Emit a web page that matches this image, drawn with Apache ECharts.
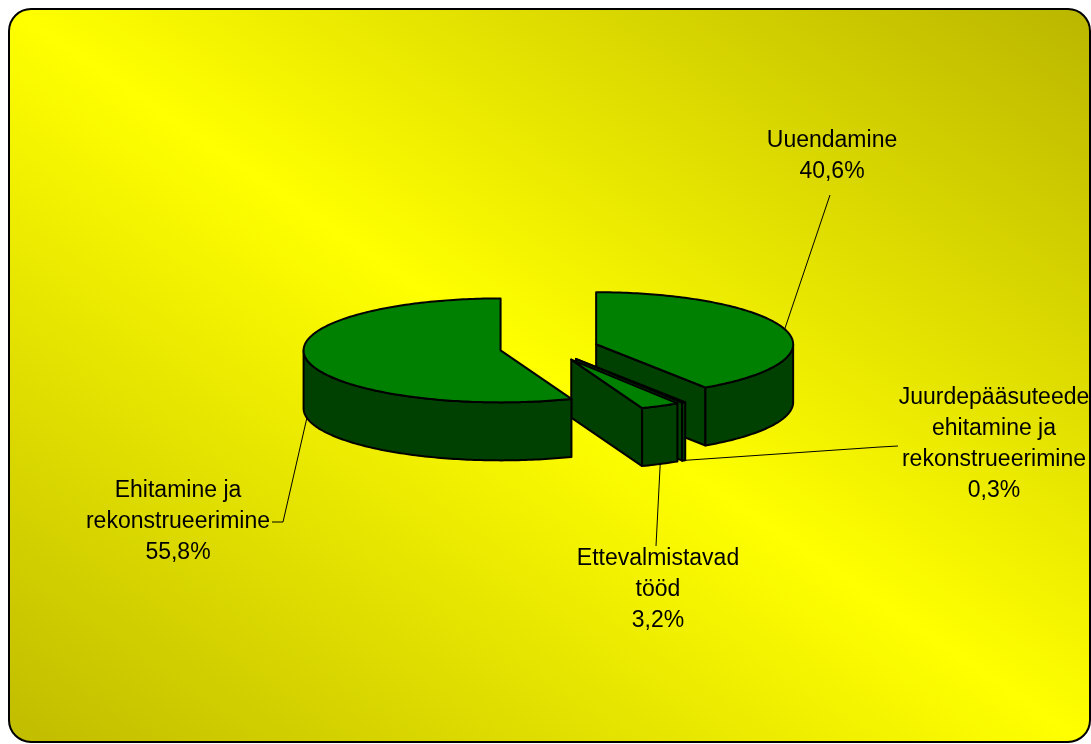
<!DOCTYPE html>
<html>
<head>
<meta charset="utf-8">
<script src="https://cdn.jsdelivr.net/npm/echarts@6/dist/echarts.min.js"></script>
<style>
  html, body { margin: 0; padding: 0; background: #fff; }
  #chart { width: 1091px; height: 744px; }
</style>
</head>
<body>
<div id="chart"></div>
<script>
// data (order = Excel order, clockwise from 12 o'clock)
const categories = [
  'Uuendamine',
  'Juurdepääsuteede\nehitamine ja\nrekonstrueerimine',
  'Ettevalmistavad\ntööd',
  'Ehitamine ja\nrekonstrueerimine'
];
const shares = [40.6, 0.3, 3.2, 55.8];

// label placement (set by hand in the original)
const labelBoxes = [[832, 156], [994, 444], [658, 590], [178, 522]];
const leaderEnds = [[[830, 195]], [[880, 447], [898, 446]], [[656, 546]], [[283, 522], [272, 522]]];

// pie geometry
const pieCX = 549, pieCY = 348;
const rx = 197, ry = 52, depth = 58;
const explode = 0.25;
const topColor = '#008000';
const sideColor = '#004000';

const total = shares.reduce((a, b) => a + b, 0);
const startAngles = [];
const endAngles = [];
let acc = 0;
shares.forEach(v => {
  startAngles.push(acc / total * 360);
  acc += v;
  endAngles.push(acc / total * 360);
});

const rad = d => d * Math.PI / 180;

const renderSlice = (params, api) => {
  const i = params.dataIndex;
  const a0 = startAngles[i], a1 = endAngles[i];
  const mid = (a0 + a1) / 2;
  const ox = explode * Math.sin(rad(mid));
  const oz = explode * Math.cos(rad(mid));

  const pt = (deg, down) => [
    pieCX + (ox + Math.sin(rad(deg))) * rx,
    pieCY - (oz + Math.cos(rad(deg))) * ry + (down ? depth : 0)
  ];
  const center = down => [pieCX + ox * rx, pieCY - oz * ry + (down ? depth : 0)];
  const arc = (from, to, down) => {
    const n = Math.max(2, Math.ceil(Math.abs(to - from)));
    const pts = [];
    for (let j = 0; j <= n; j++) pts.push(pt(from + (to - from) * j / n, down));
    return pts;
  };
  const face = (points, fill, z2) => ({
    type: 'polygon',
    z2: z2,
    shape: { points: points },
    style: { fill: fill, stroke: '#000', lineWidth: 2, lineJoin: 'round' }
  });

  const children = [];

  // outer side, only the part facing the viewer
  const f0 = Math.max(a0, 90), f1 = Math.min(a1, 270);
  if (f1 > f0) {
    const zm = oz + Math.cos(rad((f0 + f1) / 2));
    children.push(face(arc(f0, f1, false).concat(arc(f1, f0, true)), sideColor, Math.round(100 - zm * 100)));
  }
  // cut walls
  const wall = deg => [center(false), pt(deg, false), pt(deg, true), center(true)];
  if (Math.sin(rad(a1)) > 1e-6) {
    const zm = oz + Math.cos(rad(a1)) / 2;
    children.push(face(wall(a1), sideColor, Math.round(100 - zm * 100)));
  }
  if (Math.sin(rad(a0)) < -1e-6) {
    const zm = oz + Math.cos(rad(a0)) / 2;
    children.push(face(wall(a0), sideColor, Math.round(100 - zm * 100)));
  }
  // top
  children.push(face([center(false)].concat(arc(a0, a1, false)), topColor, 1000));

  // label with leader line
  const box = labelBoxes[i];
  const rim = pt(mid, false);
  const anchor = box[1] < rim[1] ? rim : pt(mid, true);
  children.push({
    type: 'polyline',
    z2: 1100,
    shape: { points: [anchor].concat(leaderEnds[i]) },
    style: { stroke: '#000', lineWidth: 1, fill: null }
  });
  const pct = api.value(0).toFixed(1).replace('.', ',') + '%';
  children.push({
    type: 'text',
    z2: 1100,
    style: {
      text: categories[i] + '\n' + pct,
      x: box[0], y: box[1],
      align: 'center', verticalAlign: 'middle',
      fill: '#000',
      fontFamily: '"Liberation Sans", Arial, sans-serif',
      fontSize: 23,
      lineHeight: 31
    }
  });

  return { type: 'group', children: children };
};

// background gradient runs across the top-left / bottom-right diagonal
const W = 1091, H = 744;
const gcx = 549, gcy = 376;
const len = Math.hypot(W, H);
const ux = H / len, uy = -W / len;
const gd = 608;

const chart = echarts.init(document.getElementById('chart'));
chart.setOption({
  animation: false,
  graphic: [{
    type: 'rect',
    z: 0,
    silent: true,
    shape: { x: 9, y: 9, width: 1081, height: 733, r: 22 },
    style: {
      fill: {
        type: 'linear', global: true,
        x: gcx + ux * gd, y: gcy + uy * gd,
        x2: gcx - ux * gd, y2: gcy - uy * gd,
        colorStops: [
          { offset: 0, color: '#bab600' },
          { offset: 0.5, color: '#ffff00' },
          { offset: 1, color: '#c0bc00' }
        ]
      },
      stroke: '#000',
      lineWidth: 2
    }
  }],
  series: [{
    type: 'custom',
    coordinateSystem: 'none',
    z: 2,
    renderItem: renderSlice,
    data: shares.map((v, i) => ({ name: categories[i], value: v }))
  }]
});
</script>
</body>
</html>
